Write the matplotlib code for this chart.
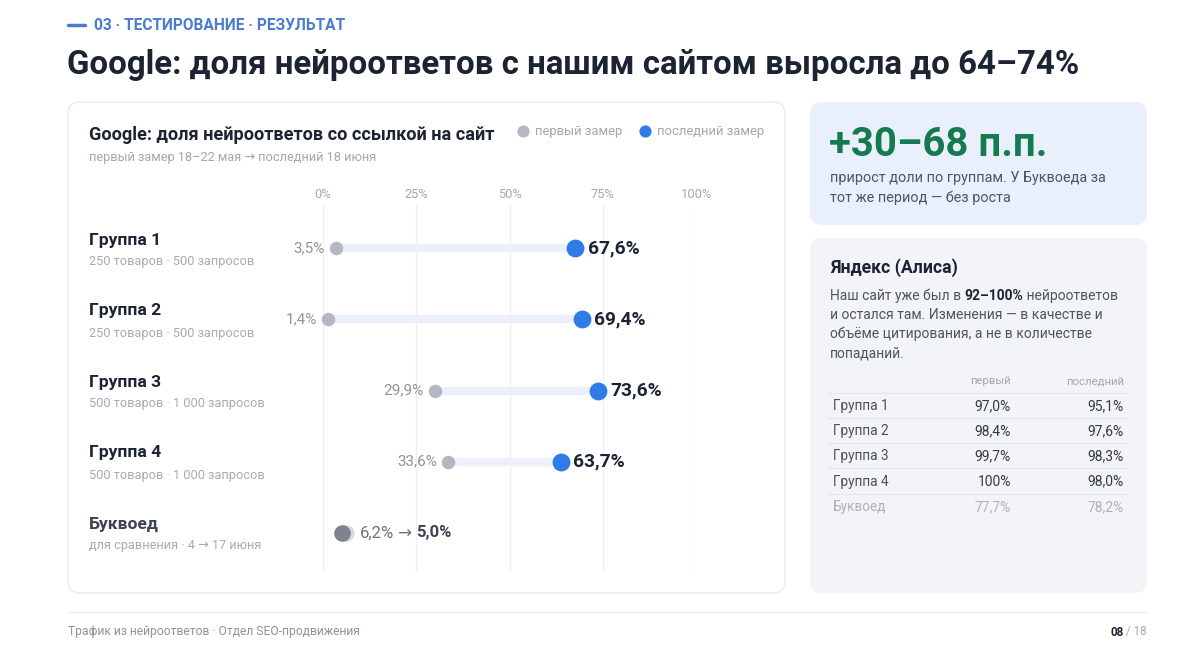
import matplotlib
matplotlib.use("Agg")
import matplotlib.pyplot as plt
from matplotlib.patches import FancyBboxPatch
from matplotlib import font_manager as fm

# pick a family that really has a bold face
FAMILY = "DejaVu Sans"
for cand in ["Roboto", "Open Sans", "Lato", "Liberation Sans", "Noto Sans"]:
    try:
        p = fm.findfont(fm.FontProperties(family=cand, weight="bold"),
                        fallback_to_default=False)
        r = fm.findfont(fm.FontProperties(family=cand, weight="normal"),
                        fallback_to_default=False)
        if p != r:
            FAMILY = cand
            break
    except Exception:
        pass
plt.rcParams['font.family'] = [FAMILY, 'DejaVu Sans']

# ---------------- data ----------------
groups = ["Группа 1", "Группа 2", "Группа 3", "Группа 4", "Буквоед"]
group_notes = ["250 товаров · 500 запросов", "250 товаров · 500 запросов",
               "500 товаров · 1 000 запросов", "500 товаров · 1 000 запросов",
               "для сравнения · 4 → 17 июня"]
first_vals = [3.5, 1.4, 29.9, 33.6, 6.2]
last_vals = [67.6, 69.4, 73.6, 63.7, 5.0]
x_ticks = [0, 25, 50, 75, 100]
x_tick_labels = ["0%", "25%", "50%", "75%", "100%"]

yandex_groups = ["Группа 1", "Группа 2", "Группа 3", "Группа 4", "Буквоед"]
yandex_first = ["97,0%", "98,4%", "99,7%", "100%", "77,7%"]
yandex_last = ["95,1%", "97,6%", "98,3%", "98,0%", "78,2%"]

W, H = 1200, 649
fig = plt.figure(figsize=(W / 100, H / 100), dpi=100)
fig.patch.set_facecolor("white")

bg = fig.add_axes([0, 0, 1, 1])
bg.set_xlim(0, W)
bg.set_ylim(H, 0)
bg.axis("off")

DARK = "#1c2433"
GRAY = "#8e939c"
LGRAY = "#a3a7b0"
BLUE = "#2f7be8"
HEADER_BLUE = "#4a7bd0"


def card(x0, y0, x1, y1, fc, ec="none"):
    p = FancyBboxPatch((x0, y0), x1 - x0, y1 - y0,
                       boxstyle="round,pad=0,rounding_size=12",
                       fc=fc, ec=ec, lw=1, zorder=0)
    bg.add_patch(p)


def chain(pieces, x, y, ax=bg, va="center"):
    t = ax.text(x, y, pieces[0][0], va=va, ha="left", **pieces[0][1])
    prev = t
    for s, kw in pieces[1:]:
        prev = ax.annotate(s, xy=(1, 0), xycoords=prev, va="bottom",
                           ha="left", **kw)
    return t


# header
bg.plot([68, 85], [25, 25], color=HEADER_BLUE, lw=2.5, solid_capstyle="round")
bg.text(94, 25, "03 · ТЕСТИРОВАНИЕ · РЕЗУЛЬТАТ", color=HEADER_BLUE,
        fontsize=11.2, fontweight="bold", va="center", ha="left")
bg.text(67, 65, "Google: доля нейроответов с нашим сайтом выросла до 64–74%",
        color=DARK, fontsize=23.8, fontweight="bold", va="center", ha="left")

card(68, 102, 785, 593, "white", "#e8eaee")
card(810, 102, 1147, 225, "#e9f0fb")
card(810, 238, 1147, 593, "#f2f4f7")

bg.text(89, 135, "Google: доля нейроответов со ссылкой на сайт", color=DARK,
        fontsize=13.1, fontweight="bold", va="center", ha="left")
bg.text(89, 158, "первый замер 18–22 мая → последний 18 июня", color=LGRAY,
        fontsize=9.2, va="center", ha="left")
bg.scatter([523], [131], s=60, color="#b4b7c2", zorder=3)
bg.text(535, 131, "первый замер", color=LGRAY, fontsize=9.4, va="center", ha="left")
bg.scatter([645], [131], s=60, color=BLUE, zorder=3)
bg.text(657, 131, "последний замер", color=LGRAY, fontsize=9.4, va="center", ha="left")

row_label_y = [240, 311, 382, 453, 524]
for i, (g, n) in enumerate(zip(groups, group_notes)):
    col = DARK if i < 4 else "#3e4350"
    bg.text(89, row_label_y[i], g, color=col, fontsize=12.6, fontweight="bold",
            va="center", ha="left")
    bg.text(89, row_label_y[i] + 22, n, color="#a7abb3", fontsize=9.2,
            va="center", ha="left")

# ---------------- dumbbell axes ----------------
left_px, right_px, top_px, bottom_px = 323, 696, 205, 572
ax = fig.add_axes([left_px / W, 1 - bottom_px / H,
                   (right_px - left_px) / W, (bottom_px - top_px) / H])
ax.set_xlim(0, 100)
row_step = 71.25
ax.set_ylim(4 + (bottom_px - 533) / row_step, 0 - (248 - top_px) / row_step)
ax.patch.set_alpha(0)
for s in ax.spines.values():
    s.set_visible(False)
ax.set_xticks(x_ticks)
ax.set_xticklabels(x_tick_labels)
ax.xaxis.tick_top()
ax.tick_params(axis="x", length=0, pad=3, labelsize=9.3, labelcolor=LGRAY)
ax.set_yticks([])
ax.grid(axis="x", color="#eef0f3", lw=1)
ax.set_axisbelow(True)

rows = list(range(len(groups)))
for i in rows[:4]:
    ax.plot([first_vals[i], last_vals[i]], [i, i], color="#ebf0fb", lw=6,
            solid_capstyle="round", zorder=2)
ax.scatter(first_vals[:4], rows[:4], s=75, color="#b4b7c2", zorder=3, clip_on=False)
ax.scatter(last_vals[:4], rows[:4], s=140, color=BLUE, zorder=4, clip_on=False)
for i in rows[:4]:
    ax.annotate(f"{first_vals[i]:.1f}%".replace(".", ","), (first_vals[i], i),
                xytext=(-8, 0), textcoords="offset points", ha="right",
                va="center", fontsize=11, color=GRAY)
    ax.annotate(f"{last_vals[i]:.1f}%".replace(".", ","), (last_vals[i], i),
                xytext=(9, 0), textcoords="offset points", ha="left",
                va="center", fontsize=13.8, fontweight="bold", color=DARK)

b = 4
ax.scatter([first_vals[b]], [b], s=120, color="#d9dbe1", zorder=3, clip_on=False)
ax.scatter([last_vals[b]], [b], s=120, color="#7f838e", zorder=4, clip_on=False)
bt = ax.annotate(f"{first_vals[b]:.1f}%".replace(".", ","), (first_vals[b], b),
                 xytext=(10, 0), textcoords="offset points", ha="left",
                 va="center", fontsize=12, color="#6e737e")
a1 = ax.annotate(" → ", xy=(1, 0), xycoords=bt, va="bottom", ha="left",
                 fontsize=12, color="#6e737e")
ax.annotate(f"{last_vals[b]:.1f}%".replace(".", ","), xy=(1, 0), xycoords=a1,
            va="bottom", ha="left", fontsize=12, fontweight="bold", color="#3e4350")

# ---------------- right top card ----------------
bg.text(829, 145, "+30–68 п.п.", color="#157a50", fontsize=28.9,
        fontweight="bold", va="center", ha="left")
bg.text(830, 178, "прирост доли по группам. У Буквоеда за", color="#4e5563",
        fontsize=10.4, va="center", ha="left")
bg.text(830, 198, "тот же период — без роста", color="#4e5563",
        fontsize=10.4, va="center", ha="left")

# ---------------- right bottom card ----------------
bg.text(830, 268, "Яндекс (Алиса)", color=DARK, fontsize=12.7, fontweight="bold",
        va="center", ha="left")
PCOL = "#4e5563"
chain([("Наш сайт уже был в ", dict(fontsize=10, color=PCOL)),
       ("92–100%", dict(fontsize=10, color=DARK, fontweight="bold")),
       (" нейроответов", dict(fontsize=10, color=PCOL))], 830, 296)
bg.text(830, 315, "и остался там. Изменения — в качестве и", color=PCOL,
        fontsize=10, va="center", ha="left")
bg.text(830, 334, "объёме цитирования, а не в количестве", color=PCOL,
        fontsize=10, va="center", ha="left")
bg.text(830, 353, "попаданий.", color=PCOL, fontsize=10, va="center", ha="left")

bg.text(1011, 381, "первый", color=LGRAY, fontsize=8.2, va="center", ha="right")
bg.text(1124, 381, "последний", color=LGRAY, fontsize=8.2, va="center", ha="right")
table_y0, table_step = 406, 25.2
for yv in [393, 418, 443, 468, 494]:
    bg.plot([828, 1128], [yv, yv], color="#e4e7eb", lw=0.9)
for k, g in enumerate(yandex_groups):
    yv = table_y0 + k * table_step
    col = "#4a505c" if k < 4 else "#aeb2ba"
    vcol = "#333946" if k < 4 else "#aeb2ba"
    bg.text(833, yv, g, color=col, fontsize=9.8, va="center", ha="left")
    bg.text(1011, yv, yandex_first[k], color=vcol, fontsize=10, va="center", ha="right")
    bg.text(1124, yv, yandex_last[k], color=vcol, fontsize=10, va="center", ha="right")

# ---------------- footer ----------------
bg.plot([68, 1147], [612, 612], color="#eceef1", lw=1)
bg.text(68, 632, "Трафик из нейроответов · Отдел SEO-продвижения", color=GRAY,
        fontsize=8.7, va="center", ha="left")
pg = bg.text(1147, 632, " / 18", color=LGRAY, fontsize=8.4, va="center", ha="right")
bg.annotate("08", xy=(0, 0), xycoords=pg, va="bottom", ha="right",
            fontsize=8.4, fontweight="bold", color=DARK)

fig.savefig("out.png", dpi=100, facecolor="white")
